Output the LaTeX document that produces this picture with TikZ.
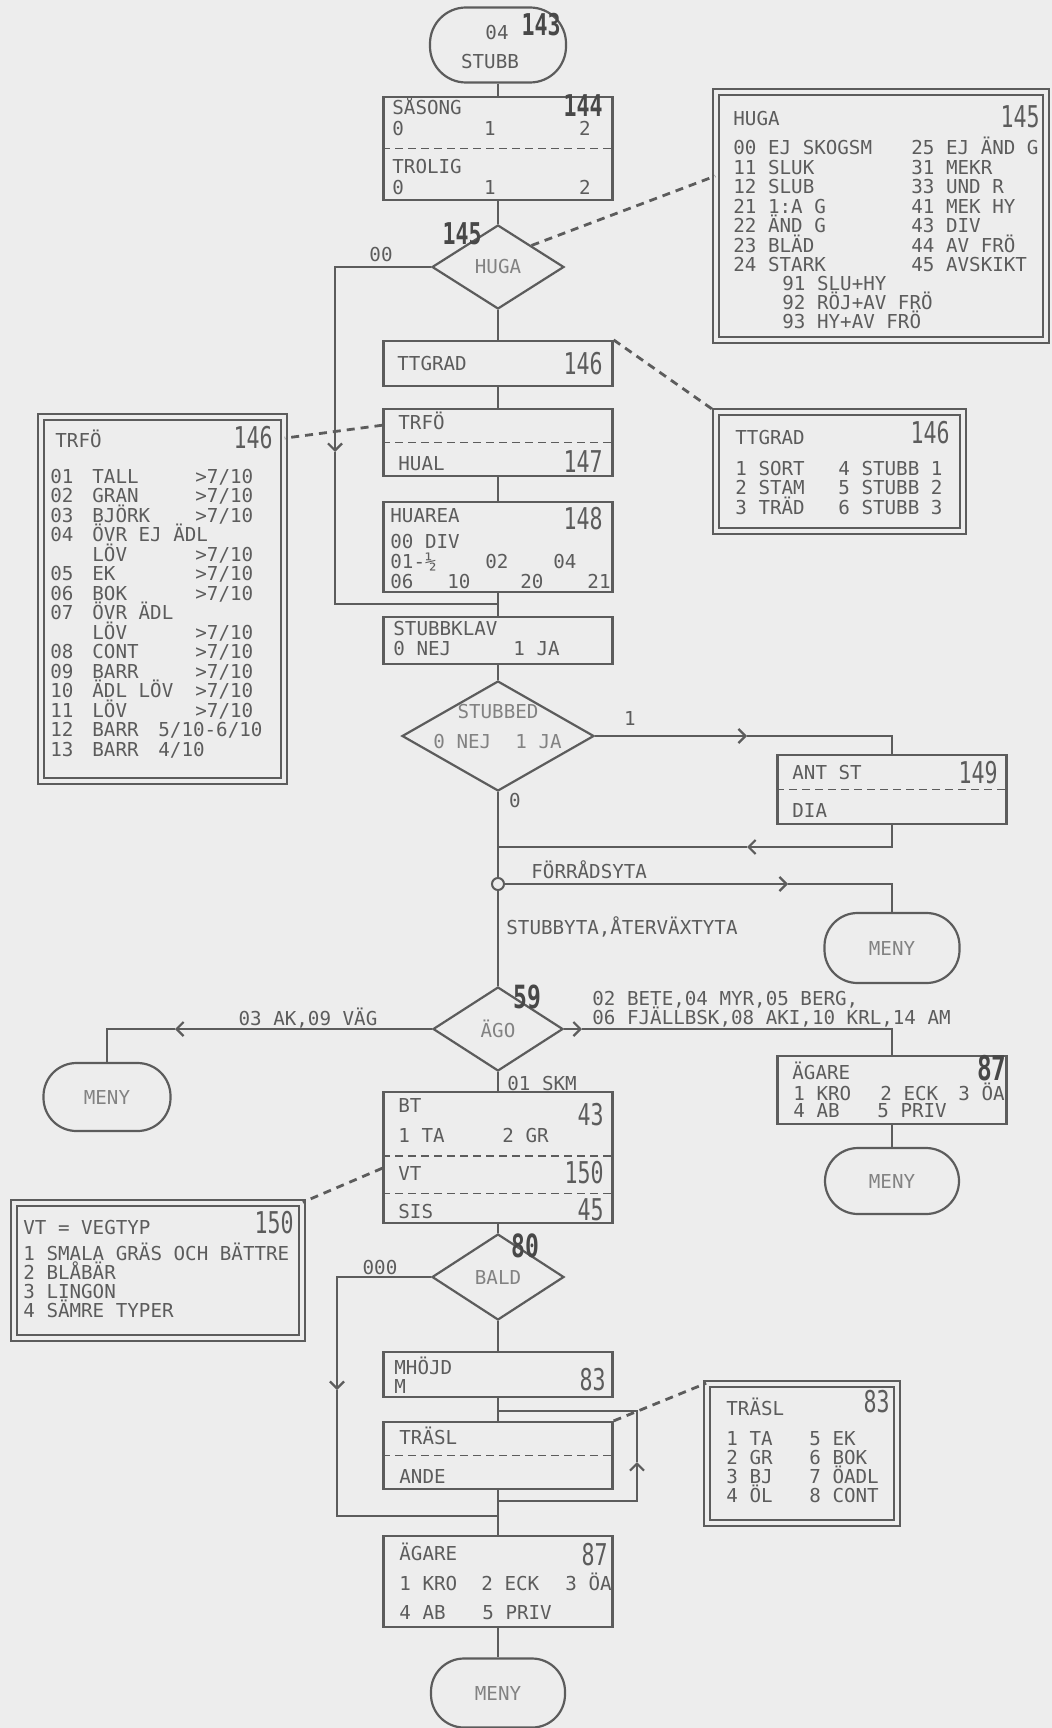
\documentclass[tikz,border=0pt]{standalone}
\usepackage{fontspec}
\newfontfamily\plotfont{DejaVu Sans Mono}
\newfontfamily\digitfont[FakeStretch=0.72]{DejaVu Sans Mono}
\usetikzlibrary{shapes.geometric, arrows.meta, positioning, calc}

\definecolor{paper}{RGB}{237,237,237}
\definecolor{ink}{RGB}{92,92,92}
\definecolor{inklt}{RGB}{130,130,130}
\definecolor{inkdk}{RGB}{72,72,72}

\newcommand{\plotlbl}{\plotfont\fontsize{9.6}{10}\selectfont}
\newcommand{\plotnum}{\digitfont\fontsize{15}{15}\selectfont}
\newcommand{\plothand}{\digitfont\bfseries\fontsize{15}{15}\selectfont}

\tikzset{
	flow/.style={draw=ink, line width=1.1pt},
	box/.style={draw=ink, line width=1.1pt, rectangle, inner sep=0pt, minimum width=114.5pt},
	sidebox/.style={draw=ink, line width=0.8pt, double=paper, double distance=2pt, rectangle, inner sep=0pt},
	term/.style={draw=ink, line width=1.1pt, rounded corners=16.5pt, inner sep=0pt, minimum width=67pt, minimum height=34pt, font=\plotlbl, text=inklt},
	decision/.style={draw=ink, line width=1.1pt, diamond, inner sep=0pt, font=\plotlbl, text=inklt},
	txt/.style={inner sep=0pt, text height=7pt, text depth=0pt, anchor=west, font=\plotlbl, text=ink},
	num/.style={inner sep=0pt, anchor=east, font=\plotnum, text=ink},
	hand/.style={inner sep=0pt, font=\plothand, text=inkdk},
	sep/.style={draw=ink, line width=0.8pt, dash pattern=on 4pt off 2.5pt},
	link/.style={draw=ink, line width=1.4pt, dash pattern=on 4pt off 3pt},
	chev/.tip={Straight Barb[length=3.5pt, width=7pt]}
}

\begin{document}
\begin{tikzpicture}[x=0.5pt, y=-0.5pt]
	\useasboundingbox (0,0) rectangle (1052,1728);
	\fill[paper] (0,0) rectangle (1052,1728);

	% Start: 04 STUBB
	\node[term, minimum width=68pt, minimum height=37.5pt, rounded corners=18pt] (stubb) at (498,45) {};
	\node[txt, anchor=center] (stubb-no) at (497,33) {04};
	\node[txt, anchor=center] (stubb-lb) at (490,62) {STUBB};
	\node[hand] (stubb-id) at (541,25) {143};

	% SASONG / TROLIG
	\node[box, minimum height=51.5pt] (sasong) at (498,148.5) {};
	\draw[sep] (sasong.west) -- (sasong.east);
	\node[txt] (sasong-t) at (392,108) {SÅSONG};
	\node[txt] (trolig-t) at (392,167) {TROLIG};
	\foreach \y/\r in {129/s, 188/t} {
		\node[txt] (\r-0) at (392,\y) {0};
		\node[txt, anchor=center] (\r-1) at (490,\y) {1};
		\node[txt, anchor=center] (\r-2) at (585,\y) {2};
	}
	\node[hand] (sasong-id) at (583,106) {144};

	% HUGA decision
	\node[decision, minimum width=66pt, minimum height=42pt] (huga) at (498,267) {HUGA};
	\node[hand] (huga-id) at (462,234) {145};
	\node[txt, anchor=center] (huga-00) at (381,255) {00};

	% HUGA code list
	\node[sidebox, minimum width=165pt, minimum height=124pt] (hugabox) at (881,216) {};
	\node[txt] (hugabox-t) at (733,119) {HUGA};
	\node[num] (hugabox-id) at (1040,117) {145};
	\foreach \k/\a/\b in {0/00 EJ SKOGSM/25 EJ ÄND G, 1/11 SLUK/31 MEKR, 2/12 SLUB/33 UND R, 3/21 1:A G/41 MEK HY, 4/22 ÄND G/43 DIV, 5/23 BLÄD/44 AV FRÖ, 6/24 STARK/45 AVSKIKT} {
		\node[txt] (hu-a\k) at (733,148+19.4*\k) {\a};
		\node[txt] (hu-b\k) at (911,148+19.4*\k) {\b};
	}
	\foreach \k/\c in {0/91 SLU+HY, 1/92 RÖJ+AV FRÖ, 2/93 HY+AV FRÖ} {
		\node[txt] (hu-c\k) at (782,284+18.8*\k) {\c};
	}

	% TTGRAD
	\node[box, minimum height=22.5pt] (ttgrad) at (498,363.5) {};
	\node[txt] (ttgrad-t) at (397,363) {TTGRAD};
	\node[num] (ttgrad-id) at (603,364) {146};

	% TTGRAD code list
	\node[sidebox, minimum width=123.5pt, minimum height=59.5pt] (ttgradbox) at (839.5,471.5) {};
	\node[txt] (ttgradbox-t) at (735,437) {TTGRAD};
	\node[num] (ttgradbox-id) at (950,433) {146};
	\foreach \k/\a/\b in {0/1 SORT/4 STUBB 1, 1/2 STAM/5 STUBB 2, 2/3 TRÄD/6 STUBB 3} {
		\node[txt] (tt-a\k) at (735,468+19.5*\k) {\a};
		\node[txt] (tt-b\k) at (838,468+19.5*\k) {\b};
	}

	% TRFO / HUAL
	\node[box, minimum height=33.5pt] (trfo) at (498,442.5) {};
	\draw[sep] (trfo.west) -- (trfo.east);
	\node[txt] (trfo-t) at (398,422) {TRFÖ};
	\node[txt] (hual-t) at (398,463) {HUAL};
	\node[num] (hual-id) at (603,462) {147};

	% TRFO code list
	\node[sidebox, minimum width=121.5pt, minimum height=182pt] (trfobox) at (162.5,599) {};
	\node[txt] (trfobox-t) at (55,440) {TRFÖ};
	\node[num] (trfobox-id) at (273,438) {146};
	\foreach \k/\n/\t/\v in {0/01/TALL/{>7/10}, 1/02/GRAN/{>7/10}, 2/03/BJÖRK/{>7/10}, 3/04/ÖVR EJ ÄDL/{}, 4//LÖV/{>7/10}, 5/05/EK/{>7/10}, 6/06/BOK/{>7/10}, 7/07/ÖVR ÄDL/{}, 8//LÖV/{>7/10}, 9/08/CONT/{>7/10}, 10/09/BARR/{>7/10}, 11/10/ÄDL LÖV/{>7/10}, 12/11/LÖV/{>7/10}} {
		\node[txt] (tr-n\k) at (50,476+19.5*\k) {\n};
		\node[txt] (tr-t\k) at (92,476+19.5*\k) {\t};
		\node[txt] (tr-v\k) at (195,476+19.5*\k) {\v};
	}
	\foreach \k/\n/\v in {13/12/{5/10-6/10}, 14/13/{4/10}} {
		\node[txt] (tr-n\k) at (50,476+19.5*\k) {\n};
		\node[txt] (tr-t\k) at (92,476+19.5*\k) {BARR};
		\node[txt] (tr-v\k) at (158,476+19.5*\k) {\v};
	}

	% HUAREA
	\node[box, minimum height=45pt] (huarea) at (498,547) {};
	\node[txt] (huarea-t) at (390,515) {HUAREA};
	\node[num] (huarea-id) at (603,519) {148};
	\node[txt] (ha-00) at (390,541) {00 DIV};
	\node[txt] (ha-01) at (390,561) {01-½};
	\node[txt] (ha-02) at (485,561) {02};
	\node[txt] (ha-04) at (553,561) {04};
	\node[txt] (ha-06) at (390,581) {06};
	\node[txt] (ha-10) at (447,581) {10};
	\node[txt] (ha-20) at (520,581) {20};
	\node[txt, anchor=east] (ha-21) at (611,581) {21};

	% STUBBKLAV
	\node[box, minimum height=23.5pt] (klav) at (498,640.5) {};
	\node[txt] (klav-t) at (393,628) {STUBBKLAV};
	\node[txt] (klav-0) at (393,648) {0 NEJ};
	\node[txt] (klav-1) at (513,648) {1 JA};

	% STUBBED decision
	\node[decision, minimum width=96pt, minimum height=55pt] (stubbed) at (498,736) {};
	\node[txt, anchor=center, text=inklt] (stubbed-t) at (498,711) {STUBBED};
	\node[txt, text=inklt] (stubbed-0) at (433,741) {0 NEJ};
	\node[txt, text=inklt] (stubbed-1) at (515,741) {1 JA};

	% main column, top part
	\draw[flow] (stubb) -- (sasong);
	\draw[flow] (sasong) -- (huga);
	\draw[flow] (huga) -- (ttgrad);
	\draw[flow] (ttgrad) -- (trfo);
	\draw[flow] (trfo) -- (huarea);
	\draw[flow] (huarea) -- (klav);
	\draw[flow] (klav) -- (stubbed);

	% 00 bypass
	\coordinate (huga-dn) at (335,452);
	\coordinate (huga-in) at (498,604);
	\draw[flow, -chev] (huga.west) -| (huga-dn);
	\draw[flow] (huga-dn) |- (huga-in);

	% links to the code lists
	\draw[link] (huga.north east) -- ($(hugabox.north west)!0.34!(hugabox.south west)$);
	\draw[link] (ttgrad.north east) -- (ttgradbox.north west);
	\draw[link] ($(trfo.north west)!0.25!(trfo.south west)$) -- ($(trfobox.north east)!0.06!(trfobox.south east)$);

	% ANT ST / DIA
	\node[box, minimum height=34.5pt] (antst) at (892,789.5) {};
	\draw[sep] (antst.west) -- (antst.east);
	\node[txt] (antst-t) at (792,772) {ANT ST};
	\node[num] (antst-id) at (998,773) {149};
	\node[txt] (dia-t) at (792,810) {DIA};
	\coordinate (st-a1) at (747,736);
	\draw[flow, -chev] (stubbed.east) -- (st-a1);
	\draw[flow] (st-a1) -| (antst.north);
	\coordinate (st-a2) at (747,847);
	\coordinate (st-in) at (498,847);
	\draw[flow, -chev] (antst.south) |- (st-a2);
	\draw[flow] (st-a2) -- (st-in);
	\node[txt, anchor=center] (st-1) at (630,718) {1};
	\node[txt, anchor=center] (st-0) at (515,800) {0};

	% area split
	\node[circle, draw=ink, fill=paper, line width=1pt, minimum size=6pt, inner sep=0pt] (split) at (498,884) {};
	\draw[flow] (stubbed.south) -- (split.north);
	\node[term, minimum width=67.5pt, minimum height=35pt] (meny1) at (892,948) {MENY};
	\coordinate (fo-a) at (788,884);
	\draw[flow, -chev] (split.east) -- (fo-a);
	\draw[flow] (fo-a) -| (meny1.north);
	\node[txt] (fo-t) at (531,871) {FÖRRÅDSYTA};
	\node[txt] (sy-t) at (506,927) {STUBBYTA,ÅTERVÄXTYTA};

	% AGO decision
	\node[decision, minimum width=65pt, minimum height=42pt] (ago) at (498,1029) {ÄGO};
	\node[hand, font=\digitfont\bfseries\fontsize{16}{16}\selectfont] (ago-id) at (527,997) {59};
	\draw[flow] (split.south) -- (ago.north);
	\node[term, minimum width=63.5pt, minimum height=34pt] (meny2) at (107,1097) {MENY};
	\coordinate (ago-a1) at (175,1029);
	\draw[flow, -chev] (ago.west) -- (ago-a1);
	\draw[flow] (ago-a1) -| (meny2.north);
	\node[txt, anchor=center] (ago-l) at (308,1018) {03 AK,09 VÄG};
	\node[txt] (ago-r1) at (592,998) {02 BETE,04 MYR,05 BERG,};
	\node[txt] (ago-r2) at (592,1017) {06 FJÄLLBSK,08 AKI,10 KRL,14 AM};
	\node[txt] (skm-t) at (507,1083) {01 SKM};

	% AGARE (right)
	\node[box, minimum height=34pt] (agare1) at (892,1090) {};
	\coordinate (ago-a2) at (582,1029);
	\draw[flow, -chev] (ago.east) -- (ago-a2);
	\draw[flow] (ago-a2) -| (agare1.north);
	\node[txt] (ag1-t) at (792,1072) {ÄGARE};
	\node[txt] (ag1-1) at (793,1093) {1 KRO};
	\node[txt] (ag1-2) at (880,1093) {2 ECK};
	\node[txt] (ag1-3) at (958,1093) {3 ÖA};
	\node[txt] (ag1-4) at (793,1110) {4 AB};
	\node[txt] (ag1-5) at (877,1110) {5 PRIV};
	\node[hand, anchor=east, font=\digitfont\bfseries\fontsize{17}{17}\selectfont] (ag1-id) at (1007,1068) {87};
	\node[term, minimum width=67pt, minimum height=33pt] (meny3) at (892,1181) {MENY};
	\draw[flow] (agare1) -- (meny3);

	% BT / VT / SIS
	\node[box, minimum height=65.5pt] (bt) at (498,1157.5) {};
	\draw[flow] (ago) -- (bt);
	\draw[sep] ($(bt.north west)!0.49!(bt.south west)$) -- ($(bt.north east)!0.49!(bt.south east)$);
	\draw[sep] ($(bt.north west)!0.77!(bt.south west)$) -- ($(bt.north east)!0.77!(bt.south east)$);
	\node[txt] (bt-t) at (398,1105) {BT};
	\node[num] (bt-id) at (604,1115) {43};
	\node[txt] (bt-1) at (398,1135) {1 TA};
	\node[txt] (bt-2) at (502,1135) {2 GR};
	\node[txt] (vt-t) at (398,1173) {VT};
	\node[num] (vt-id) at (604,1173) {150};
	\node[txt] (sis-t) at (398,1211) {SIS};
	\node[num] (sis-id) at (604,1210) {45};

	% VT code list
	\node[sidebox, minimum width=144pt, minimum height=67.5pt] (vtbox) at (158,1270.5) {};
	\node[txt] (vtbox-t) at (23,1227) {VT = VEGTYP};
	\node[num] (vtbox-id) at (294,1223) {150};
	\foreach \k/\a in {0/1 SMALA GRÄS OCH BÄTTRE, 1/2 BLÅBÄR, 2/3 LINGON, 3/4 SÄMRE TYPER} {
		\node[txt] (vt-a\k) at (23,1253+19*\k) {\a};
	}
	\draw[link] ($(bt.north west)!0.58!(bt.south west)$) -- (vtbox.north east);

	% BALD decision
	\node[decision, minimum width=66pt, minimum height=43pt] (bald) at (498,1277) {BALD};
	\node[hand, font=\digitfont\bfseries\fontsize{16}{16}\selectfont] (bald-id) at (525,1246) {80};
	\draw[flow] (bt) -- (bald);
	\node[txt, anchor=center] (bald-000) at (380,1267) {000};
	\coordinate (bald-dn) at (337,1390);
	\coordinate (bald-in) at (498,1516);
	\draw[flow, -chev] (bald.west) -| (bald-dn);
	\draw[flow] (bald-dn) |- (bald-in);

	% MHOJD
	\node[box, minimum height=22.5pt] (mhojd) at (498,1374.5) {};
	\node[txt] (mhojd-t) at (394,1367) {MHÖJD};
	\node[txt] (mhojd-m) at (394,1386) {M};
	\node[num] (mhojd-id) at (606,1380) {83};
	\draw[flow] (bald) -- (mhojd);

	% TRASL / ANDE with repeat loop
	\node[box, minimum height=33.5pt] (trasl) at (498,1455.5) {};
	\draw[sep] (trasl.west) -- (trasl.east);
	\node[txt] (trasl-t) at (399,1437) {TRÄSL};
	\node[txt] (ande-t) at (399,1476) {ANDE};
	\draw[flow] (mhojd) -- (trasl);
	\coordinate (rep-out) at (498,1501);
	\coordinate (rep-up) at (637,1462);
	\coordinate (rep-in) at (498,1411);
	\draw[flow, -chev] (rep-out) -| (rep-up);
	\draw[flow] (rep-up) |- (rep-in);

	% TRASL code list
	\node[sidebox, minimum width=95pt, minimum height=69.5pt] (traslbox) at (802,1453.5) {};
	\node[txt] (traslbox-t) at (726,1408) {TRÄSL};
	\node[num] (traslbox-id) at (890,1402) {83};
	\foreach \k/\a/\b in {0/1 TA/5 EK, 1/2 GR/6 BOK, 2/3 BJ/7 ÖADL, 3/4 ÖL/8 CONT} {
		\node[txt] (ts-a\k) at (726,1438+19.3*\k) {\a};
		\node[txt] (ts-b\k) at (809,1438+19.3*\k) {\b};
	}
	\draw[link] (trasl.north east) -- (traslbox.north west);

	% AGARE (bottom) and end
	\node[box, minimum height=45.5pt] (agare2) at (498,1581.5) {};
	\draw[flow] (trasl) -- (agare2);
	\node[txt] (ag2-t) at (399,1553) {ÄGARE};
	\node[num] (ag2-id) at (608,1555) {87};
	\node[txt] (ag2-1) at (399,1583) {1 KRO};
	\node[txt] (ag2-2) at (481,1583) {2 ECK};
	\node[txt] (ag2-3) at (565,1583) {3 ÖA};
	\node[txt] (ag2-4) at (399,1612) {4 AB};
	\node[txt] (ag2-5) at (482,1612) {5 PRIV};
	\node[term, minimum width=67pt, minimum height=34.5pt] (meny4) at (498,1693) {MENY};
	\draw[flow] (agare2) -- (meny4);
\end{tikzpicture}
\end{document}
